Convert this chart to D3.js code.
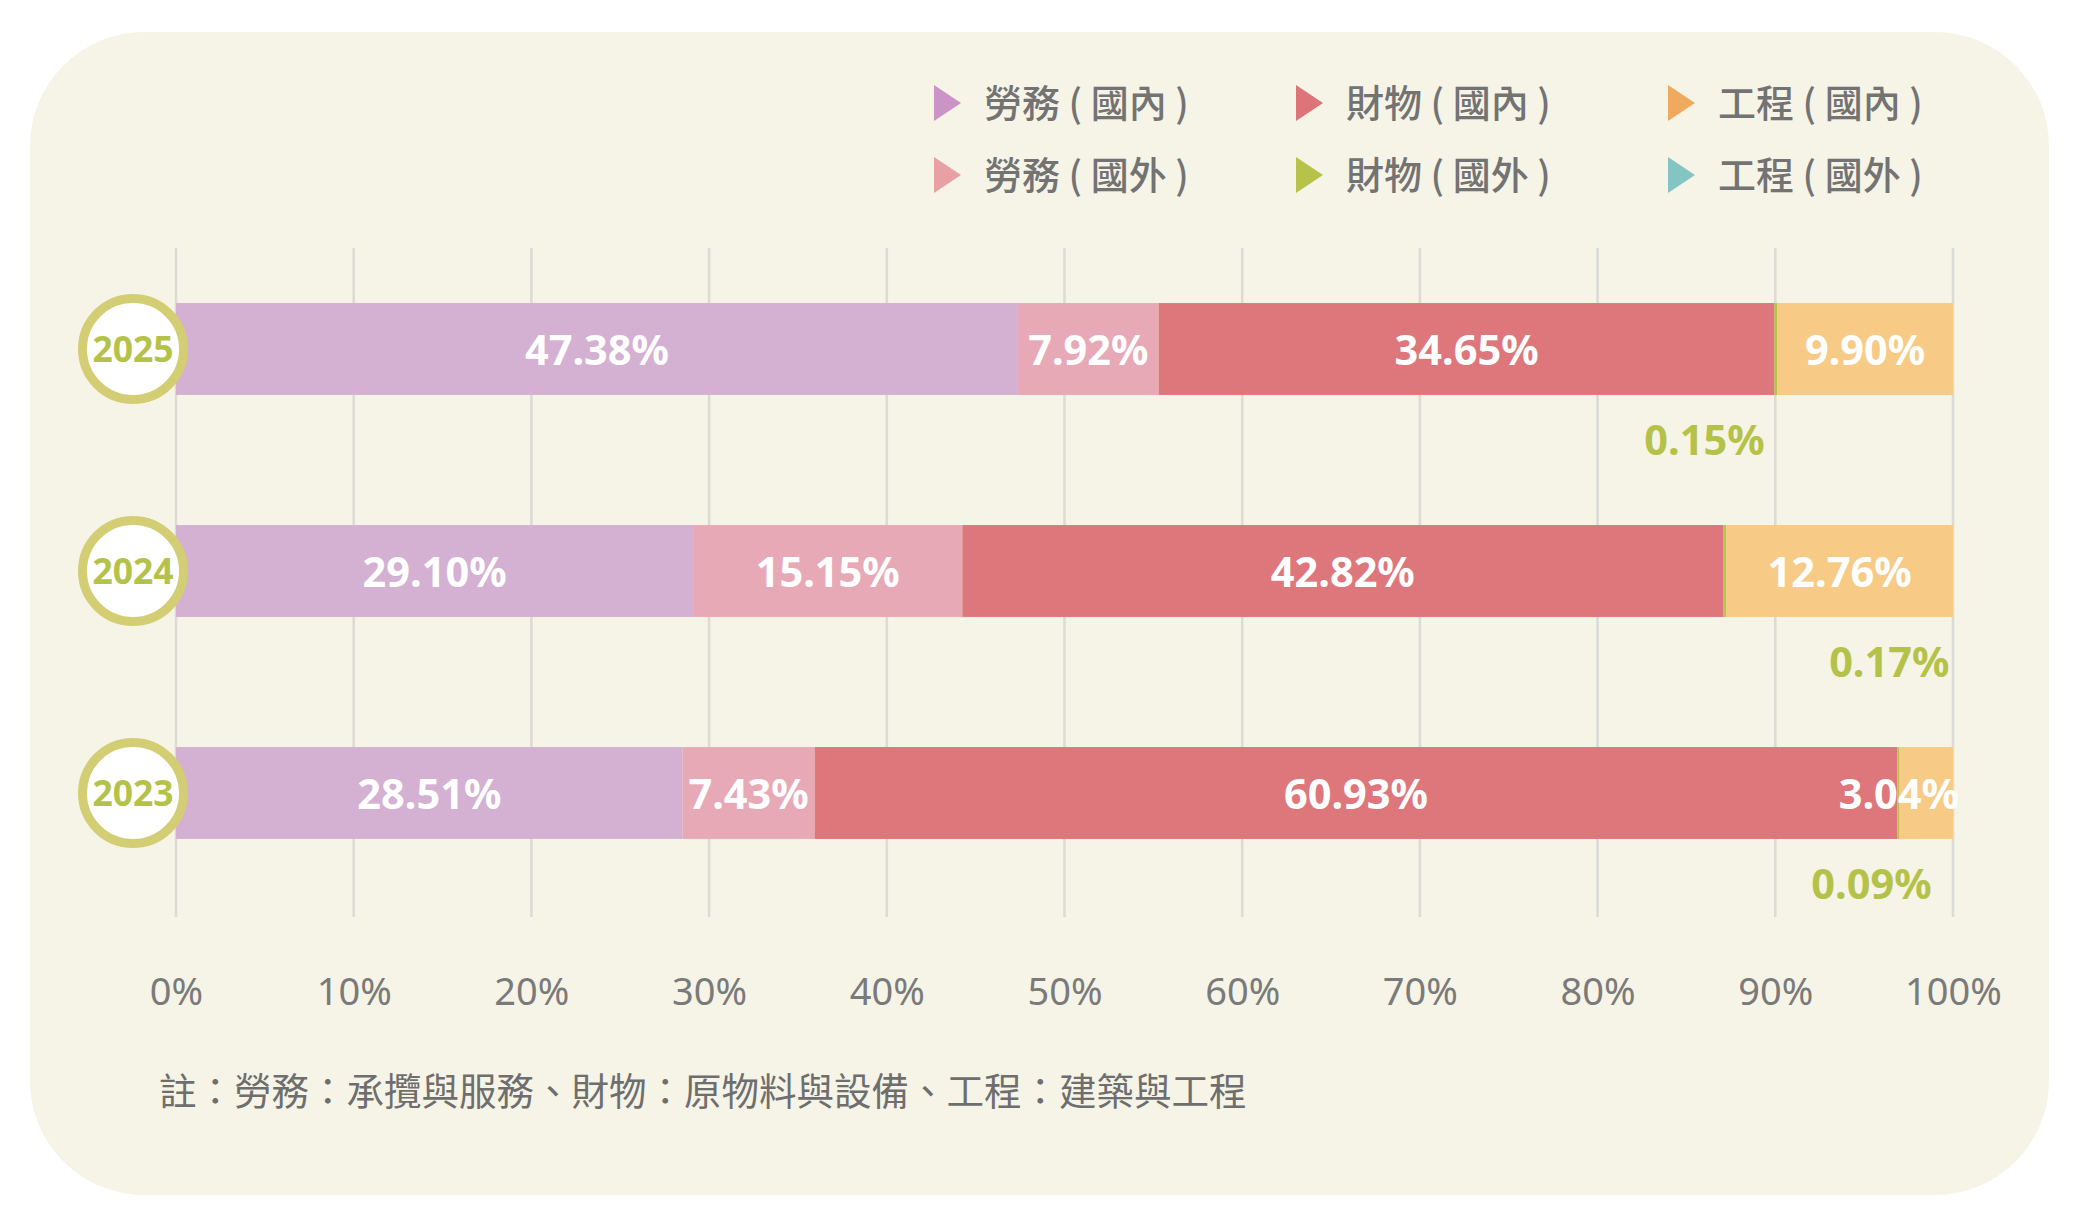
<!DOCTYPE html>
<html>
<head>
<meta charset="utf-8">
<script src="https://cdn.jsdelivr.net/npm/d3@7"></script>
<style>
  body { margin: 0; background: #fff; }
  svg { display: block; }
</style>
</head>
<body>
<svg id="chart" width="2083" height="1220"></svg>
<script>
// values (percent of each year's total)
const years = ["2025", "2024", "2023"];
const laborDomestic = [47.38, 29.10, 28.51];
const laborForeign = [7.92, 15.15, 7.43];
const goodsDomestic = [34.65, 42.82, 60.93];
const goodsForeign = [0.15, 0.17, 0.09];
const worksDomestic = [9.90, 12.76, 3.04];
const worksForeign = [0, 0, 0];
const tickValues = [0, 10, 20, 30, 40, 50, 60, 70, 80, 90, 100];
// where the small green labels end (in % along the axis)
const goodsForeignLabelEnd = [89.4, 99.8, 98.8];

const legendNames = ["勞務 ( 國內 )", "財物 ( 國內 )", "工程 ( 國內 )",
                     "勞務 ( 國外 )", "財物 ( 國外 )", "工程 ( 國外 )"];
const legendKeys = ["laborD", "goodsD", "worksD", "laborF", "goodsF", "worksF"];
const note = "註：勞務：承攬與服務、財物：原物料與設備、工程：建築與工程";

const stackKeys = ["laborD", "laborF", "goodsD", "goodsF", "worksD", "worksF"];
const barColor = {
    laborD: "#d4b0d2", laborF: "#e8a9b6", goodsD: "#dd777b",
    goodsF: "#b7c24b", worksD: "#f7ca86", worksF: "#84c5c3"
};
const legendColor = {
    laborD: "#cc93c6", laborF: "#e8a0a4", goodsD: "#dc7479",
    goodsF: "#b7c24b", worksD: "#f0aa5e", worksF: "#84c5c3"
};

const rows = years.map((y, i) => ({
    year: y,
    laborD: laborDomestic[i], laborF: laborForeign[i],
    goodsD: goodsDomestic[i], goodsF: goodsForeign[i],
    worksD: worksDomestic[i], worksF: worksForeign[i]
}));

const svg = d3.select("#chart");
const latin = "'Noto Sans', 'Noto Sans CJK TC', sans-serif";
const cjk = "'Noto Sans CJK TC', 'Noto Sans', sans-serif";

// card background
svg.append("rect")
    .attr("x", 30).attr("y", 32)
    .attr("width", 2019).attr("height", 1163)
    .attr("rx", 114).attr("ry", 114)
    .attr("fill", "#f6f4e6");

const x = d3.scaleLinear().domain([0, 100]).range([176, 1953]);
const y = d3.scaleBand().domain(years).range([238, 904])
    .paddingInner(0.586).paddingOuter(0.293);

// grid
svg.append("g").selectAll("line")
    .data(tickValues)
    .enter().append("line")
    .attr("x1", d => x(d)).attr("x2", d => x(d))
    .attr("y1", 248).attr("y2", 917)
    .attr("stroke", "#dcdcd6")
    .attr("stroke-width", 2.6);

// axis labels
const axis = d3.axisBottom(x).tickValues(tickValues).tickFormat(d => d + "%").tickSize(0);
const axisG = svg.append("g").attr("transform", "translate(0,960)").call(axis);
axisG.select(".domain").remove();
axisG.selectAll("text")
    .attr("dy", 0).attr("y", 45)
    .attr("font-family", latin)
    .attr("font-size", 38)
    .attr("fill", "#7a7a7a");

// bars
const series = d3.stack().keys(stackKeys)(rows);
const layer = svg.append("g").selectAll("g")
    .data(series)
    .enter().append("g")
    .attr("fill", d => barColor[d.key]);

layer.selectAll("rect")
    .data(d => d)
    .enter().append("rect")
    .attr("x", d => x(d[0]))
    .attr("y", d => y(d.data.year))
    .attr("width", d => x(d[1]) - x(d[0]))
    .attr("height", y.bandwidth());

// labels inside bars
const insideKeys = ["laborD", "laborF", "goodsD", "worksD"];
series.filter(s => insideKeys.includes(s.key)).forEach(s => {
    s.forEach(d => {
        const v = d[1] - d[0];
        const w = x(d[1]) - x(d[0]);
        const narrow = w < 110;
        svg.append("text")
            .attr("x", narrow ? x(100) + 6 : (x(d[0]) + x(d[1])) / 2)
            .attr("y", y(d.data.year) + y.bandwidth() / 2)
            .attr("dy", "0.38em")
            .attr("text-anchor", narrow ? "end" : "middle")
            .attr("font-family", latin)
            .attr("font-weight", 700)
            .attr("font-size", 41.5)
            .attr("fill", "#fff")
            .text(v.toFixed(2) + "%");
    });
});

// small green labels below bars
svg.append("g").selectAll("text")
    .data(rows)
    .enter().append("text")
    .attr("x", (d, i) => x(goodsForeignLabelEnd[i]))
    .attr("y", d => y(d.year) + y.bandwidth() + 60)
    .attr("text-anchor", "end")
    .attr("font-family", latin)
    .attr("font-weight", 700)
    .attr("font-size", 41.5)
    .attr("fill", "#b5c24a")
    .text(d => d.goodsF.toFixed(2) + "%");

// year badges
const badge = svg.append("g").selectAll("g")
    .data(years)
    .enter().append("g")
    .attr("transform", d => `translate(133,${y(d) + y.bandwidth() / 2})`);
badge.append("circle")
    .attr("r", 50.5)
    .attr("fill", "#fff")
    .attr("stroke", "#d3ce74")
    .attr("stroke-width", 9);
badge.append("text")
    .attr("text-anchor", "middle")
    .attr("dy", "0.37em")
    .attr("font-family", latin)
    .attr("font-weight", 700)
    .attr("font-size", 35.5)
    .attr("fill", "#b5c24a")
    .text(d => d);

// legend
const legendX = [934, 1296, 1668];
const legendY = [103, 175];
const item = svg.append("g").selectAll("g")
    .data(legendKeys)
    .enter().append("g")
    .attr("transform", (d, i) => `translate(${legendX[i % 3]},${legendY[Math.floor(i / 3)]})`);
item.append("path")
    .attr("d", "M0,-18L27,0L0,18Z")
    .attr("fill", d => legendColor[d]);
item.append("text")
    .attr("x", 50)
    .attr("dy", "0.36em")
    .attr("font-family", cjk)
    .attr("font-weight", 500)
    .attr("font-size", 38)
    .attr("fill", "#737373")
    .text((d, i) => legendNames[i]);

// footnote
svg.append("text")
    .attr("x", 159).attr("y", 1105)
    .attr("font-family", cjk)
    .attr("font-size", 37.5)
    .attr("fill", "#6e6e6e")
    .text(note);
</script>
</body>
</html>
